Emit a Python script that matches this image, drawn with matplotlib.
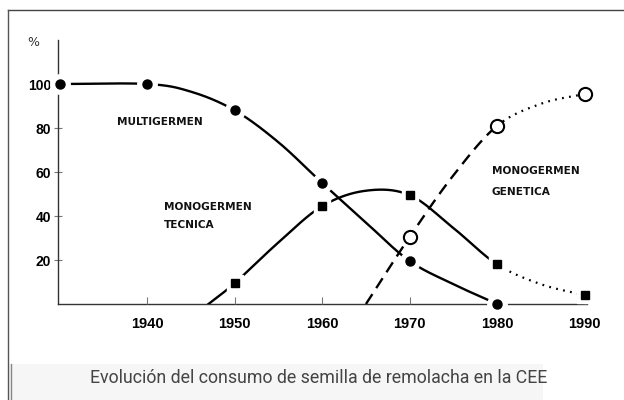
import numpy as np
import matplotlib
matplotlib.use("Agg")
import matplotlib.pyplot as plt
from matplotlib.lines import Line2D
from matplotlib.patches import Rectangle

# ---- data ----
multi_years = [1930, 1940, 1950, 1960, 1970, 1980]
multi_vals = [100, 100, 88, 55, 19.5, 0]
multi_curve_x = [1930, 1940, 1945, 1950, 1955, 1960, 1965, 1970, 1975, 1980]
multi_curve_y = [100, 100, 96.5, 88, 73.5, 55, 37, 19.5, 9, 0]

tec_years = [1950, 1960, 1970, 1980, 1990]
tec_vals = [9.5, 44.5, 49.5, 18, 4]
tec_curve_x = [1947, 1950, 1955, 1960, 1965, 1970, 1975, 1980, 1985, 1990]
tec_curve_y = [0, 9.5, 28, 44.5, 51.5, 49.5, 34.5, 18, 9, 4]

gen_years = [1970, 1980, 1990]
gen_vals = [30.5, 81, 95.5]
gen_curve_x = [1965, 1970, 1975, 1980, 1985, 1990]
gen_curve_y = [0, 30.5, 58.5, 81, 91, 95.5]

x_ticks = [1940, 1950, 1960, 1970, 1980, 1990]
y_ticks = [20, 40, 60, 80, 100]

caption = "Evolución del consumo de semilla de remolacha en la CEE"

TICKFONT = ['Liberation Sans', 'DejaVu Sans']


def catmull(xs, ys, n=30):
    xs = np.asarray(xs, float); ys = np.asarray(ys, float)
    P = np.column_stack([xs, ys])
    P = np.vstack([2 * P[0] - P[1], P, 2 * P[-1] - P[-2]])
    out = []
    for i in range(1, len(P) - 2):
        p0, p1, p2, p3 = P[i - 1], P[i], P[i + 1], P[i + 2]
        t = np.linspace(0, 1, n, endpoint=False)[:, None]
        seg = 0.5 * ((2 * p1) + (-p0 + p2) * t + (2 * p0 - 5 * p1 + 4 * p2 - p3) * t ** 2
                     + (-p0 + 3 * p1 - 3 * p2 + p3) * t ** 3)
        out.append(seg)
    out.append(P[-2][None, :])
    a = np.vstack(out)
    return a[:, 0], a[:, 1]


fig = plt.figure(figsize=(6.24, 4.0), dpi=100)
fig.patch.set_facecolor('white')

# caption band + frame
fig.patches.append(Rectangle((8 / 624, 0), 535 / 624, 36 / 400, transform=fig.transFigure,
                             facecolor='#f6f6f6', edgecolor='none', zorder=0))
fig.lines.append(Line2D([8 / 624, 1], [1 - 10 / 400, 1 - 10 / 400], transform=fig.transFigure,
                        color='#444444', lw=1.0))
fig.lines.append(Line2D([8 / 624, 8 / 624], [0, 1 - 10 / 400], transform=fig.transFigure,
                        color='#555555', lw=1.0))
fig.lines.append(Line2D([11 / 624, 11 / 624], [0, 36 / 400], transform=fig.transFigure,
                        color='#888888', lw=1.0))

ax = fig.add_axes([0.093, 0.24, 0.886, 0.66])
ax.set_xlim(1929.8, 1993)
ax.set_ylim(0, 120)
for s in ['top', 'right', 'bottom']:
    ax.spines[s].set_visible(False)
ax.spines['left'].set_color('#333333')
ax.spines['left'].set_linewidth(1.0)
ax.plot([1929.8, 1990.3], [0, 0], color='#333333', lw=1.0, clip_on=False, zorder=1)

ax.set_yticks(y_ticks)
ax.set_yticklabels([str(v) for v in y_ticks], fontfamily=TICKFONT, fontweight='bold', fontsize=10)
ax.set_xticks(x_ticks)
ax.set_xticklabels([str(v) for v in x_ticks], fontfamily=TICKFONT, fontweight='bold', fontsize=10.5)
ax.tick_params(axis='y', direction='inout', length=6, width=0.8, color='#777777', pad=2)
ax.tick_params(axis='x', direction='in', length=5, width=0.8, color='#777777', pad=9)

lw = 1.7
col = 'black'

# Multigermen
cx, cy = catmull(multi_curve_x, multi_curve_y)
ax.plot(cx, cy, color=col, lw=lw, solid_capstyle='butt', zorder=2, clip_on=False)

# Monogermen tecnica
cx, cy = catmull(tec_curve_x, tec_curve_y)
m = cx <= 1980
ax.plot(cx[m], cy[m], color=col, lw=lw, zorder=2)
ax.plot(cx[cx >= 1980], cy[cx >= 1980], color=col, lw=1.6, dashes=(0.8, 2.4), zorder=2)

# Monogermen genetica
cx, cy = catmull(gen_curve_x, gen_curve_y)
ax.plot(cx[cx <= 1980], cy[cx <= 1980], color=col, lw=lw, dashes=(5, 3), zorder=2)
ax.plot(cx[cx >= 1980], cy[cx >= 1980], color=col, lw=1.6, dashes=(0.8, 2.4), zorder=2)

# marker halos (gaps in lines)
ax.plot(multi_years, multi_vals, 'o', ms=14, color='white', zorder=3, clip_on=False)
ax.plot(tec_years, tec_vals, 's', ms=12, color='white', zorder=3, clip_on=False)
ax.plot(multi_years, multi_vals, 'o', ms=6.5, color=col, zorder=4, clip_on=False)
ax.plot(tec_years, tec_vals, 's', ms=5.8, color=col, zorder=4, clip_on=False)
ax.plot(gen_years, gen_vals, 'o', ms=9.5, mfc='white', mec=col, mew=1.5, zorder=4, clip_on=False)

lab = dict(fontfamily='DejaVu Sans', fontweight='bold', fontsize=7.6, color='#111111', va='center')
ax.text(1936.5, 82.7, 'MULTIGERMEN', **lab)
ax.text(1941.9, 44, 'MONOGERMEN', **lab)
ax.text(1941.9, 36, 'TECNICA', **lab)
ax.text(1979.4, 60.5, 'MONOGERMEN', **lab)
ax.text(1979.4, 51, 'GENETICA', **lab)
ax.text(1927.0, 119, '%', fontsize=9, ha='center', va='center', color='#333333', clip_on=False)

fig.text(319 / 624, 1 - 378 / 400, caption, ha='center', va='center', fontsize=12.8,
         fontfamily=['Roboto', 'DejaVu Sans'], color='#444444')

fig.savefig('out.png', dpi=100)
